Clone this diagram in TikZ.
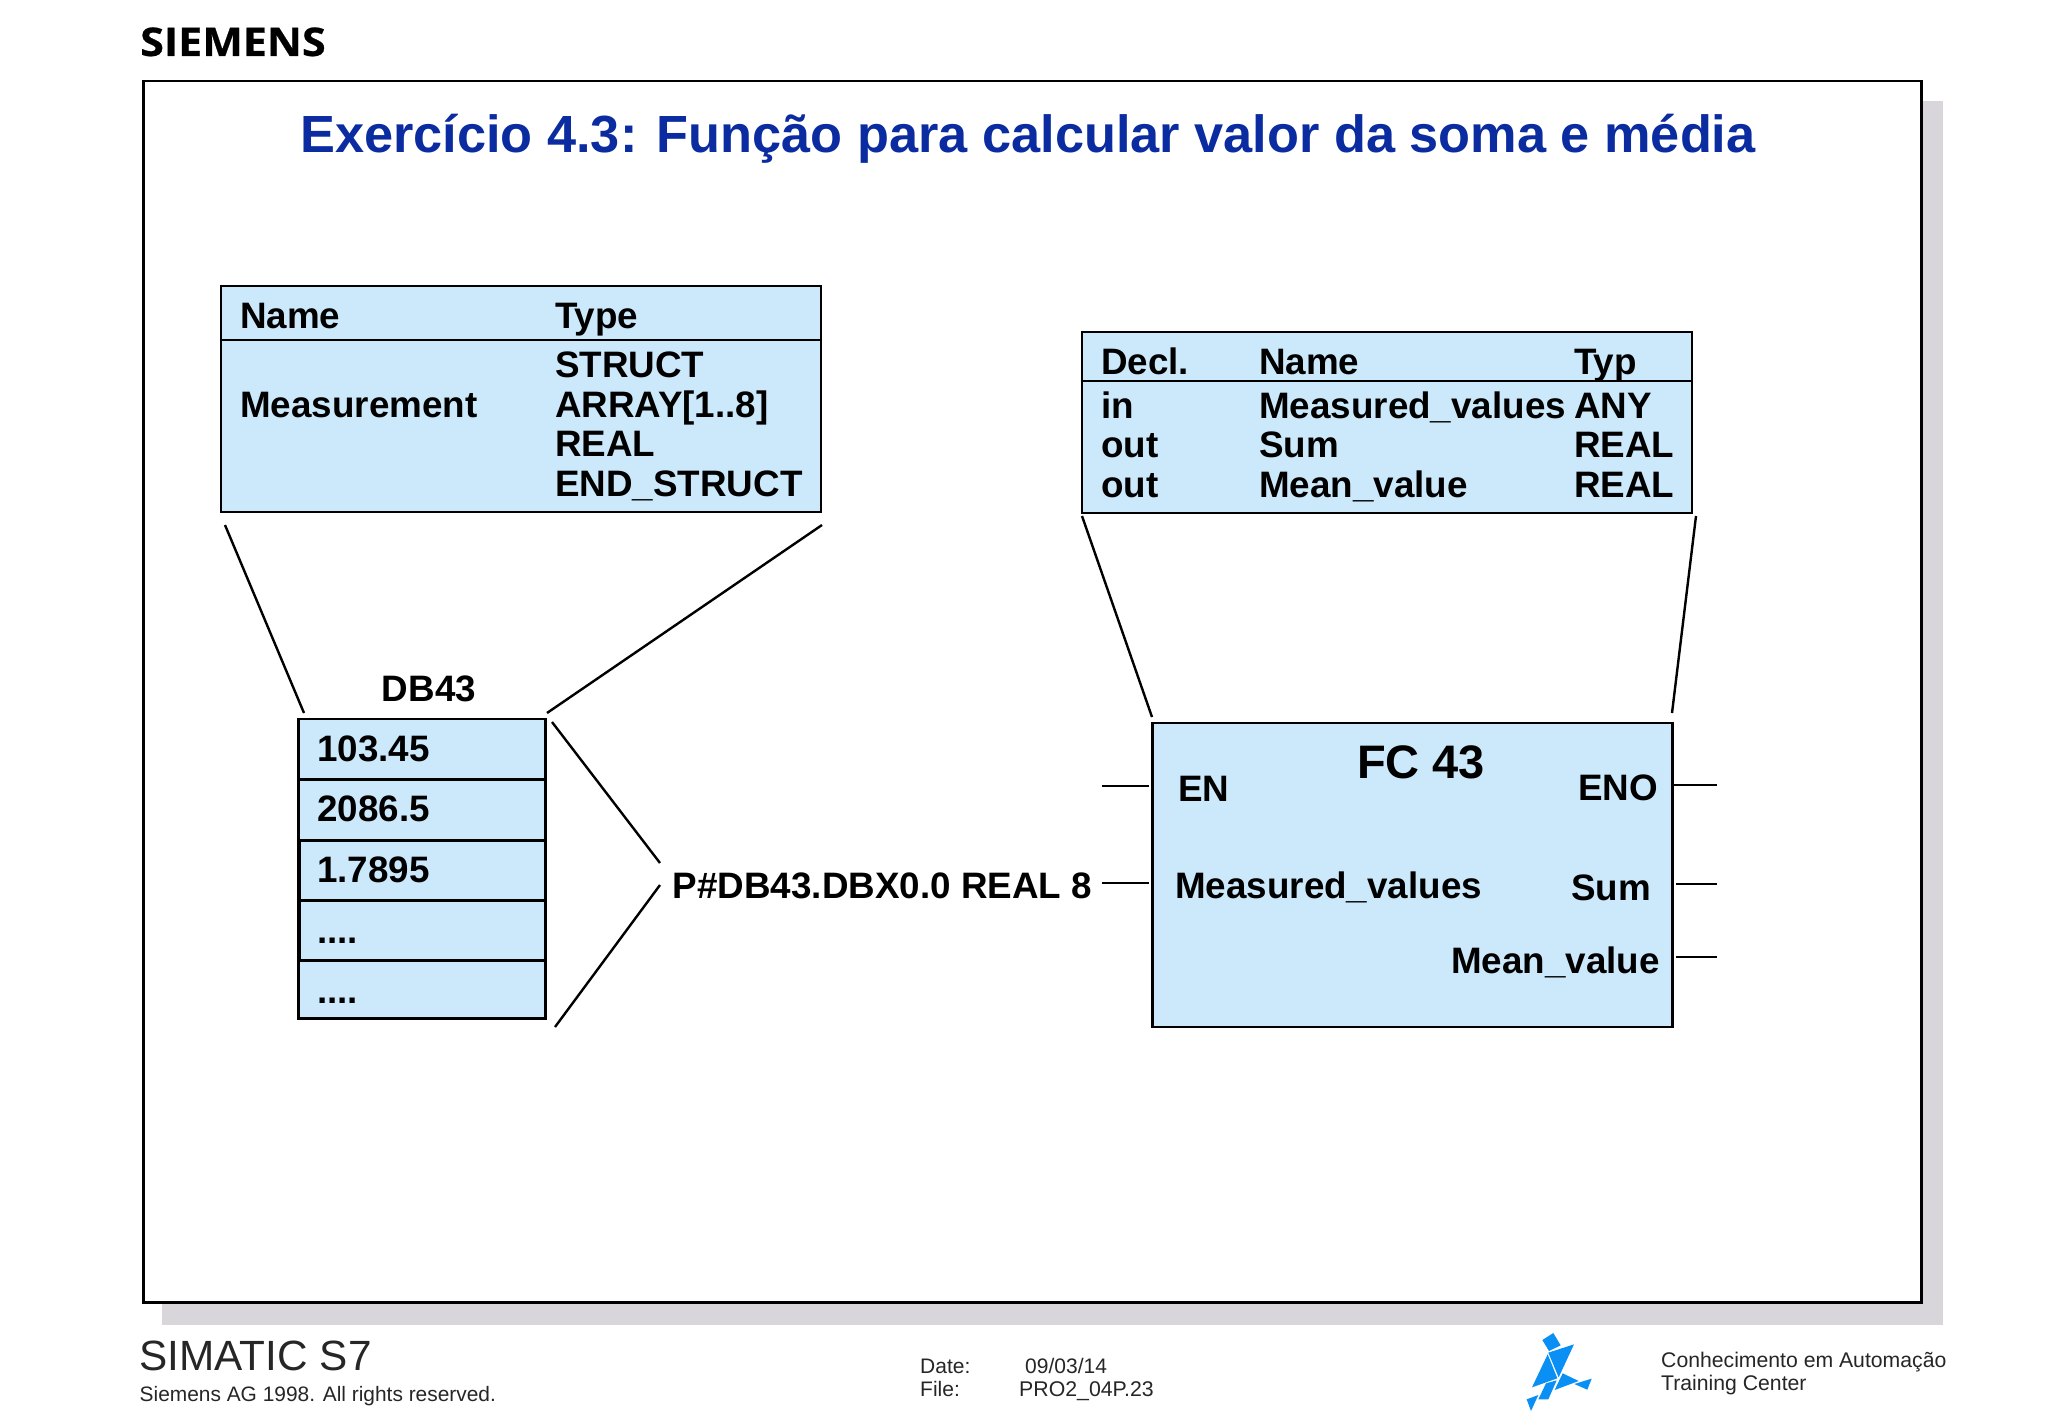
\documentclass[tikz,border=0pt]{standalone}
\usepackage{fontspec}
\setmainfont{Liberation Sans}
\newfontfamily\logofont[FakeStretch=1.09,FakeBold=0.6]{Open Sans}
\definecolor{boxblue}{HTML}{CCE9FC}
\definecolor{titleblue}{HTML}{0A2CA0}
\definecolor{shadowgrey}{HTML}{D8D6DA}
\definecolor{logoblue}{HTML}{0A90F5}
\tikzset{
  lbl/.style={anchor=base west,inner sep=0pt,font=\fontsize{36.8}{40}\selectfont\bfseries,text=black},
  lblr/.style={lbl,anchor=base east},
  boxn/.style={draw=black,line width=2.6pt,fill=boxblue,anchor=north west,inner sep=0pt},
  conn/.style={draw=black,line width=2.4pt},
  foot/.style={anchor=base west,inner sep=0pt,font=\fontsize{21}{24}\selectfont,text=black!85},
  logopart/.style={fill=logoblue,draw=none}
}
\begin{document}
\begin{tikzpicture}[x=1pt,y=-1pt]
\useasboundingbox (0,0) rectangle (2048,1418);
\fill[white] (0,0) rectangle (2048,1418);
% sheet with shadow
\fill[shadowgrey] (162,101) rectangle (1943,1325);
\node (sheet) [draw=black,fill=white,line width=2.8pt,anchor=north west,inner sep=0pt,minimum width=1778pt,minimum height=1221pt] at (141.7,79.7) {};
\node (brand) [anchor=base west,inner sep=0pt,font=\fontsize{39.5}{40}\selectfont\logofont\bfseries] at (140,56) {SIEMENS};
\node (title) [anchor=base,inner sep=0pt,font=\fontsize{52.3}{56}\selectfont\bfseries,text=titleblue] at (1028,153) {Exercício 4.3: Função para calcular valor da soma e média};
% structure table
\node (t1) [boxn,minimum width=600pt,minimum height=226pt] at (219.7,284.7) {};
\draw[conn] (t1.west |- 0,340) -- (t1.east |- 0,340);
\node (t1n) [lbl] at (240,328) {Name};
\node (t1t) [lbl] at (555,328) {Type};
\node (t1s) [lbl] at (555,377) {STRUCT};
\node (t1m) [lbl] at (240,417) {Measurement};
\node (t1a) [lbl] at (555,417) {ARRAY[1..8]};
\node (t1r) [lbl] at (555,456) {REAL};
\node (t1e) [lbl] at (555,496) {END\_STRUCT};
% declaration table
\node (t2) [boxn,minimum width=610pt,minimum height=181pt] at (1080.7,330.7) {};
\draw[conn] (t2.west |- 0,381) -- (t2.east |- 0,381);
\node (t2d) [lbl] at (1101,374) {Decl.};
\node (t2n) [lbl] at (1259,374) {Name};
\node (t2t) [lbl] at (1574,374) {Typ};
\node (r1a) [lbl] at (1101,418) {in};
\node (r1b) [lbl] at (1259,418) {Measured\_values};
\node (r1c) [lbl] at (1574,418) {ANY};
\node (r2a) [lbl] at (1101,457) {out};
\node (r2b) [lbl] at (1259,457) {Sum};
\node (r2c) [lbl] at (1574,457) {REAL};
\node (r3a) [lbl] at (1101,497) {out};
\node (r3b) [lbl] at (1259,497) {Mean\_value};
\node (r3c) [lbl] at (1574,497) {REAL};
% DB43
\node (dbt) [lbl,anchor=base] at (429,701) {DB43};
\node (d1) [boxn,minimum width=247pt,minimum height=60pt] at (297,717.5) {};
\node (d2) [boxn,minimum width=247pt,minimum height=60pt] at (297,778.5) {};
\node (d3) [boxn,line width=3.6pt,minimum width=246.5pt,minimum height=60pt] at (297,838.5) {};
\node (d4) [boxn,line width=3.6pt,minimum width=246.5pt,minimum height=60pt] at (297,898.5) {};
\node (d5) [boxn,line width=3.2pt,minimum width=246.5pt,minimum height=58.5pt] at (297,958.5) {};
\node (v1) [lbl] at (317,761) {103.45};
\node (v2) [lbl] at (317,821) {2086.5};
\node (v3) [lbl] at (317,882) {1.7895};
\node (v4) [lbl] at (317,943) {....};
\node (v5) [lbl] at (317,1003) {....};
% pointer text
\node (ptr) [lbl] at (672.5,898) {P\#DB43.DBX0.0 REAL 8};
% FC block
\node (fc) [boxn,minimum width=520pt,minimum height=304pt] at (1151,721.5) {};
\node (fct) [lbl,anchor=base,font=\fontsize{47}{50}\selectfont\bfseries] at (1421,778) {FC 43};
\node (fen) [lbl] at (1178,801) {EN};
\node (feo) [lblr] at (1658,800) {ENO};
\node (fmv) [lbl] at (1175,898) {Measured\_values};
\node (fsu) [lblr] at (1651,900) {Sum};
\node (fme) [lblr] at (1660,973) {Mean\_value};
% connector end points
\coordinate (a1) at (225,525); \coordinate (a2) at (304,713);
\coordinate (b1) at (822,525); \coordinate (b2) at (547,713);
\coordinate (c1) at (552,722); \coordinate (c2) at (660,863);
\coordinate (e1) at (660,885); \coordinate (e2) at (555,1027);
\coordinate (f1) at (1082,516); \coordinate (f2) at (1152,717);
\coordinate (g1) at (1696,516); \coordinate (g2) at (1672,713);
\coordinate (h1) at (1102,786); \coordinate (h2) at (1149,786);
\coordinate (i1) at (1102,883); \coordinate (i2) at (1149,883);
\coordinate (j1) at (1673,785); \coordinate (j2) at (1717,785);
\coordinate (k1) at (1676,884); \coordinate (k2) at (1717,884);
\coordinate (l1) at (1676,957); \coordinate (l2) at (1717,957);
\foreach \p/\q in {a1/a2,b1/b2,c1/c2,e1/e2,f1/f2,g1/g2,h1/h2,i1/i2,j1/j2,k1/k2,l1/l2}
  \draw[conn] (\p) -- (\q);
% footer
\node (sim) [foot,font=\fontsize{42.3}{46}\selectfont] at (139.5,1370.5) {SIMATIC S7};
\node (ag) [foot,font=\fontsize{20.9}{24}\selectfont] at (139.5,1401) {Siemens AG 1998. All rights reserved.};
\node (dl) [foot] at (920,1373) {Date:};
\node (dv) [foot] at (1025,1373) {09/03/14};
\node (fl) [foot] at (920,1396) {File:};
\node (fv) [foot,font=\fontsize{21.3}{24}\selectfont] at (1019,1396) {PRO2\_04P.23};
\node (ca) [foot,font=\fontsize{21.2}{24}\selectfont] at (1661,1367) {Conhecimento em Automação};
\node (cb) [foot,font=\fontsize{21.2}{24}\selectfont] at (1661,1390) {Training Center};
% tangram logo
\begin{scope}[shift={(1480,1300)},x=0.3333pt,y=-0.3333pt]
\fill[logopart] (187,120) -- (220,99) -- (242,136) -- (207,153) -- cycle;
\fill[logopart] (205,158) -- (282,133) -- (236,232) -- cycle;
\fill[logopart] (203,163) -- (232,235) -- (156,262) -- cycle;
\fill[logopart] (230,241) -- (205,298) -- (175,298) -- (198,250) -- cycle;
\fill[logopart] (248,220) -- (296,243) -- (224,270) -- cycle;
\fill[logopart] (335,236) -- (322,269) -- (283,252) -- cycle;
\fill[logopart] (175,285) -- (153,333) -- (140,298) -- cycle;
\end{scope}
\end{tikzpicture}
\end{document}
